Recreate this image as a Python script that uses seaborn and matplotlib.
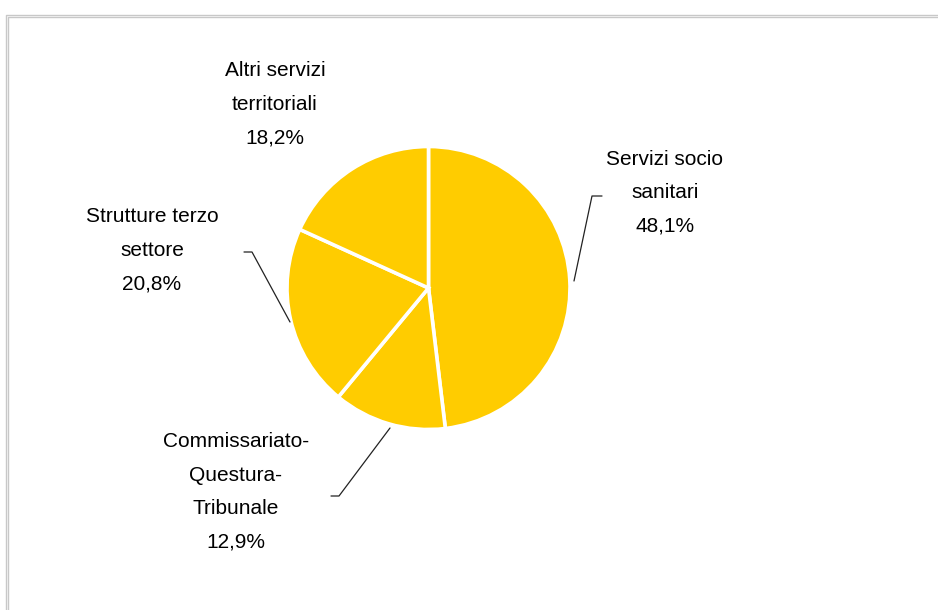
import matplotlib
matplotlib.use("Agg")
import matplotlib.pyplot as plt
import seaborn as sns
import numpy as np

categories = ["Servizi socio\nsanitari", "Commissariato-\nQuestura-\nTribunale",
              "Strutture terzo\nsettore", "Altri servizi\nterritoriali"]
values = [48.1, 12.9, 20.8, 18.2]
value_labels = ["48,1%", "12,9%", "20,8%", "18,2%"]

sns.set_theme(style="white")
plt.rcParams['font.family'] = ['Liberation Sans', 'DejaVu Sans']

W, H = 938, 610
fig = plt.figure(figsize=(W / 100, H / 100), dpi=100)
ax = fig.add_axes([0, 0, 1, 1])

# figure frame (double gray line)
for off in (0, 2.2):
    ax.plot([6 + off, 6 + off, W + 5], [-5, H - 15 - off, H - 15 - off],
            color='#c8c8c8', lw=1.0, solid_capstyle='butt', zorder=0)

cx, cy, r = 428.5, 610 - 288, 141.5
color = sns.color_palette(["#FFCC00"])[0]
ax.pie(values, colors=[color] * len(values), startangle=90, counterclock=False,
       center=(cx, cy), radius=r, frame=True,
       wedgeprops=dict(edgecolor='white', linewidth=2.6))
ax.set_xlim(0, W)
ax.set_ylim(0, H)
ax.set_aspect('equal')
ax.axis('off')

label_pos = [(665, 193), (236, 492), (152, 250), (275, 104)]
line_gap = 33.5
for cat, val, (x, y) in zip(categories, value_labels, label_pos):
    lines = cat.split("\n") + [val]
    n = len(lines)
    for i, t in enumerate(lines):
        yy = y + (i - (n - 1) / 2) * line_gap
        ax.text(x, H - yy, t, ha='center', va='center', fontsize=15, color='black')

# leader lines (pixel coordinates, y from top)
leaders = [
    [(574, 281), (592, 196), (602, 196)],
    [(390, 428), (339, 496), (331, 496)],
    [(290, 322), (252, 252), (244, 252)],
]
for pts in leaders:
    xs = [p[0] for p in pts]
    ys = [H - p[1] for p in pts]
    ax.plot(xs, ys, color='#222222', lw=0.9)

fig.savefig("out.png", dpi=100, facecolor='white')
